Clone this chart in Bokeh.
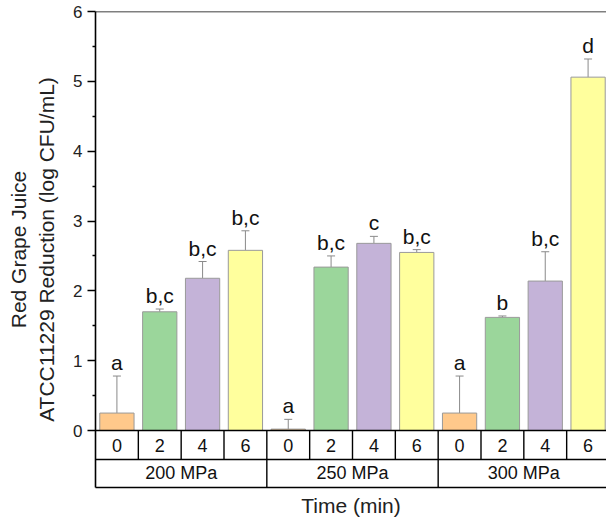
from bokeh.plotting import figure
from bokeh.models import (ColumnDataSource, Range1d, FixedTicker, LinearAxis,
                          Whisker, TeeHead, Span)
from bokeh.core.properties import value
from bokeh.embed import file_html
from bokeh.resources import INLINE

# ---- data ----
pressures = ["200 MPa", "250 MPa", "300 MPa"]
times = ["0", "2", "4", "6"]
means_200 = [0.25, 1.70, 2.18, 2.58]
means_250 = [0.02, 2.34, 2.68, 2.55]
means_300 = [0.25, 1.62, 2.14, 5.06]
err_200 = [0.53, 0.04, 0.24, 0.28]
err_250 = [0.14, 0.16, 0.10, 0.04]
err_300 = [0.53, 0.02, 0.42, 0.26]
letters_200 = ["a", "b,c", "b,c", "b,c"]
letters_250 = ["a", "b,c", "c", "b,c"]
letters_300 = ["a", "b", "b,c", "d"]
time_colors = ["#FFC98B", "#9BD69B", "#C4B3D8", "#FFFF9D"]
y_ticks = [0, 1, 2, 3, 4, 5, 6]

means = means_200 + means_250 + means_300
errs = err_200 + err_250 + err_300
letters = letters_200 + letters_250 + letters_300
n_t = len(times)
n = len(means)
xs = [i + 0.5 for i in range(n)]
cols = [time_colors[i % n_t] for i in range(n)]
tlabels = [times[i % n_t] for i in range(n)]

src = ColumnDataSource(dict(x=xs, top=means, upper=[m + e for m, e in zip(means, errs)],
                            color=cols, letter=letters, tl=tlabels))

FONT = "Liberation Sans"
row1 = -0.415
row2 = -0.816

p = figure(width=606, height=520, output_backend="svg", toolbar_location=None,
           x_range=Range1d(0, 11.93), y_range=Range1d(row2, 6),
           x_axis_location=None, y_axis_location=None,
           min_border_left=95, min_border_right=0, min_border_top=11, min_border_bottom=33)
p.outline_line_color = None
p.grid.visible = False

# y axis
yax = LinearAxis(ticker=FixedTicker(ticks=y_ticks, minor_ticks=[t + 0.5 for t in y_ticks[:-1]]))
yax.axis_label = "Red Grape Juice\nATCC11229 Reduction (log CFU/mL)"
yax.axis_label_text_font = FONT
yax.axis_label_text_font_size = "21px"
yax.axis_label_text_font_style = "normal"
yax.axis_label_text_color = "#222222"
yax.axis_label_standoff = 12
yax.major_label_text_font = FONT
yax.major_label_text_font_size = "17px"
yax.major_label_text_color = "#222222"
yax.major_label_standoff = 5
yax.major_tick_out = 8
yax.major_tick_in = 0
yax.minor_tick_out = 3
yax.minor_tick_in = 0
yax.axis_line_width = 1.6
yax.major_tick_line_width = 1.3
yax.minor_tick_line_width = 1.3
p.add_layout(yax, "left")

# x axis (bottom line + title)
xax = LinearAxis(ticker=FixedTicker(ticks=[]))
xax.axis_label = "Time (min)"
xax.axis_label_text_font = FONT
xax.axis_label_text_font_size = "21px"
xax.axis_label_text_font_style = "normal"
xax.axis_label_text_color = "#222222"
xax.axis_label_standoff = 6
xax.axis_line_width = 1.6
xax.major_label_text_font_size = "0px"
p.add_layout(xax, "below")

# top border
p.add_layout(Span(location=6, dimension="width", line_color="black", line_width=1.6))

# bars
p.vbar(x="x", top="top", bottom=0, width=0.8, source=src, fill_color="color",
       line_color="#9a9a9a", line_width=1)

# error bars
p.add_layout(Whisker(source=src, base="x", lower="top", upper="upper",
                     line_color="#8a8a8a", line_width=1,
                     upper_head=TeeHead(size=8, line_color="#8a8a8a", line_width=1),
                     lower_head=None))

# significance letters
p.text(x="x", y="upper", text="letter", source=src, text_align="center",
       text_baseline="bottom", y_offset=-2, text_font=value(FONT),
       text_font_size="21px", text_color="#111111")

# category table
n_g = len(pressures)
p.segment(x0=[0, 0], y0=[0, row1], x1=[n, n], y1=[0, row1], line_color="black", line_width=1.6)
p.segment(x0=list(range(1, n + 1)), y0=[0] * n, x1=list(range(1, n + 1)), y1=[row1] * n,
          line_color="black", line_width=1.4)
gx = [(g + 1) * n_t for g in range(n_g)]
p.segment(x0=gx, y0=[row1] * n_g, x1=gx, y1=[row2] * n_g, line_color="black", line_width=1.4)
p.text(x="x", y=row1 / 2, text="tl", source=src, text_align="center", text_baseline="middle",
       text_font=value(FONT), text_font_size="18px", text_color="#111111")
p.text(x=[g * n_t + n_t / 2 for g in range(n_g)], y=[(row1 + row2) / 2] * n_g, text=pressures,
       text_align="center", text_baseline="middle", text_font=value(FONT),
       text_font_size="18px", text_color="#111111")

open("out.html", "w").write(file_html(p, INLINE))
